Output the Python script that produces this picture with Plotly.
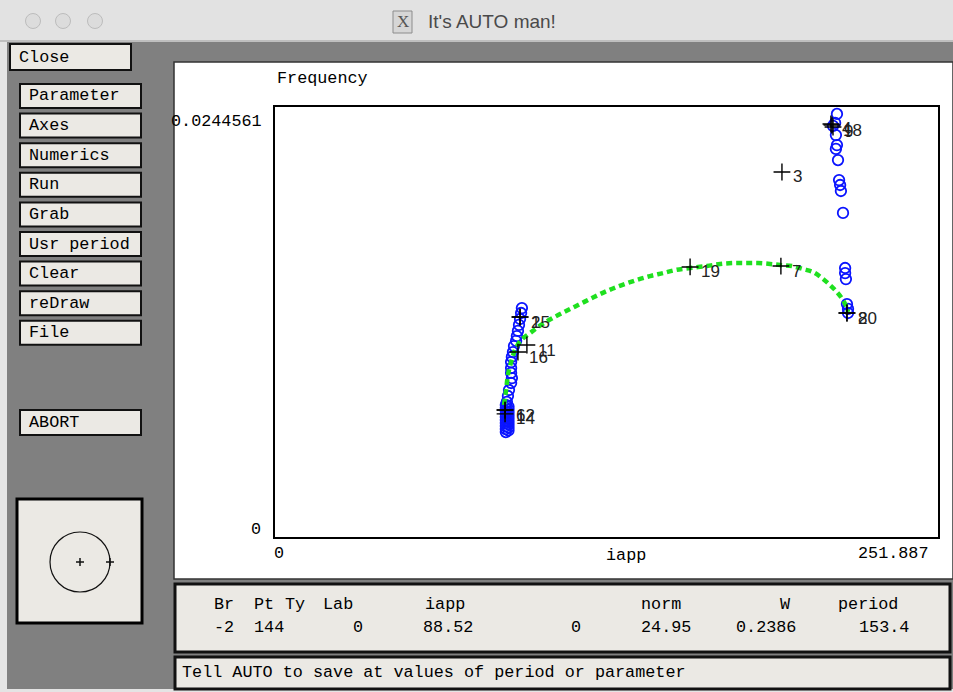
import plotly.graph_objects as go

W, H = 953, 692

# ---------------- data ----------------
iapp_range = [0, 251.887]
freq_range = [0, 0.0244561]

# stable/unstable branch (green dotted curve)
curve_iapp = [87.0, 87.8, 88.5, 89.7, 91.2, 93.5, 96.9, 101.1, 105.6, 110.6,
              115.9, 121.2, 126.1, 131.8, 137.5, 142.5, 147.4, 152.3, 157.7, 164.1,
              169.1, 174.0, 178.9, 183.5, 188.1, 191.9, 196.4, 200.6, 204.4, 207.8,
              210.9, 213.5, 215.8, 217.3, 217.7]
curve_freq = [0.00751, 0.00836, 0.00921, 0.00995, 0.01064, 0.01120, 0.01160, 0.01206, 0.01246, 0.01285,
              0.01325, 0.01365, 0.01399, 0.01433, 0.01462, 0.01484, 0.01501, 0.01519, 0.01530, 0.01541,
              0.01553, 0.01558, 0.01558, 0.01558, 0.01553, 0.01547, 0.01541, 0.01524, 0.01507, 0.01473,
              0.01433, 0.01393, 0.01348, 0.01302, 0.01280]

# blue open circles (periodic orbits)
orbit_iapp = [213.5, 212.8, 212.0, 213.1, 213.5, 213.1, 213.9, 214.3, 214.7, 215.0, 215.8,
              216.6, 216.6, 216.9, 217.3, 217.7, 217.7,
              93.8, 93.5, 93.1, 92.7, 92.3, 91.9, 91.6, 90.8, 90.4, 90.0, 89.7, 89.7, 89.7,
              90.0, 89.7, 88.9, 88.5, 88.1,
              87.7, 88.7, 87.7, 88.7, 87.7, 88.7, 87.7, 88.7, 87.7, 88.7, 87.7, 88.7, 87.7,
              88.7, 87.7, 88.7, 87.7, 88.7, 87.7]
orbit_freq = [0.02406, 0.02355, 0.02338, 0.02286, 0.02229, 0.02207, 0.02144, 0.02030, 0.02002, 0.01968, 0.01843,
              0.01530, 0.01501, 0.01467, 0.01325, 0.01297, 0.01274,
              0.01302, 0.01274, 0.01240, 0.01206, 0.01172, 0.01143, 0.01115, 0.01086, 0.01052, 0.01024, 0.00995, 0.00961, 0.00933,
              0.00904, 0.00876, 0.00836, 0.00802, 0.00768,
              0.00751, 0.00742, 0.00734, 0.00725, 0.00717, 0.00708, 0.00700, 0.00691, 0.00683, 0.00674, 0.00665, 0.00657, 0.00648,
              0.00640, 0.00631, 0.00623, 0.00614, 0.00606, 0.00597]

# labelled points (crosses)
lab_iapp = [211.2, 212.0, 211.6, 192.6, 157.7, 192.2, 217.3, 217.3, 93.1, 93.1, 95.7, 92.3, 87.4, 87.4, 87.4]
lab_freq = [0.02349, 0.02332, 0.02343, 0.02076, 0.01536, 0.01541, 0.01274, 0.01274, 0.01251, 0.01251,
            0.01092, 0.01052, 0.00722, 0.00722, 0.00700]
lab_text = ["4", "9", "18", "3", "19", "7", "8", "20", "2", "15", "11", "16", "6", "12", "14"]

buttons = ["Parameter", "Axes", "Numerics", "Run", "Grab", "Usr period", "Clear", "reDraw", "File"]

info_header = ["Br", "Pt", "Ty", "Lab", "iapp", "norm", "W", "period"]
info_values = ["-2", "144", "0", "88.52", "0", "24.95", "0.2386", "153.4"]

# ---------------- layout helpers ----------------
MONO = "Liberation Mono"
FS = 16.8
shapes = []
annots = []


def rect(x0, y0, x1, y1, fill, line=None, lw=0):
    shapes.append(dict(type="rect", xref="paper", yref="paper", layer="below",
                       x0=x0 / W, x1=x1 / W, y0=1 - y1 / H, y1=1 - y0 / H,
                       fillcolor=fill, line=dict(color=line if line else fill, width=lw)))


def circ(cx, cy, r, fill, line, lw):
    shapes.append(dict(type="circle", xref="paper", yref="paper", layer="below",
                       x0=(cx - r) / W, x1=(cx + r) / W, y0=1 - (cy + r) / H, y1=1 - (cy - r) / H,
                       fillcolor=fill, line=dict(color=line, width=lw)))


def seg(x0, y0, x1, y1, color, lw):
    shapes.append(dict(type="line", xref="paper", yref="paper", layer="below",
                       x0=x0 / W, x1=x1 / W, y0=1 - y0 / H, y1=1 - y1 / H,
                       line=dict(color=color, width=lw)))


def text(x, y, s, size=FS, anchor="left", color="black", family=MONO):
    annots.append(dict(xref="paper", yref="paper", x=x / W, y=1 - y / H, text=s,
                       showarrow=False, xanchor=anchor, yanchor="middle",
                       font=dict(family=family, size=size, color=color)))


# window chrome
rect(0, 0, W, 41, "#e2e2e2")
seg(0, 41, W, 41, "#9a9a9a", 1)
for cx in (33, 63, 95):
    circ(cx, 21, 7.5, "#dcdcdc", "#bcbcbc", 1)
rect(393, 11, 412, 33, "#d6d6d6", "#8c8c8c", 1)
text(402.5, 22, "X", size=17, anchor="center", color="#555555", family="Liberation Serif")
text(426, 22, "It's AUTO man!", size=19, color="#4a4a4a", family="Liberation Sans")

rect(7, 42, W, 689, "#808080")

# buttons
rect(10, 44, 131, 70, "#ebe9e4", "#111111", 2)
text(17, 57, "Close")
for i, b in enumerate(buttons):
    cy = 96 + i * 29.6
    rect(20, cy - 12, 141, cy + 12, "#ebe9e4", "#111111", 2)
    text(27, cy, b)
rect(20, 410, 141, 435, "#ebe9e4", "#111111", 2)
text(27, 422, "ABORT")

# circle widget
rect(17, 499, 142, 623, "#ebe9e4", "#000000", 3)
circ(80, 562, 30, "rgba(0,0,0,0)", "#111111", 1.2)
for cx in (80, 110):
    seg(cx - 4, 562, cx + 4, 562, "#111111", 1.5)
    seg(cx, 558, cx, 566, "#111111", 1.5)

# graph window
rect(174, 62, 953, 579, "#ffffff", "#333333", 1.5)

# info panels
rect(175, 584, 950, 652, "#ebe9e4", "#111111", 3)
rect(175, 657, 950, 689, "#ebe9e4", "#111111", 3)

hx = [212, 252, 283, 321, 423, 639, 778, 836]
vx = [212, 252, 351, 421, 569, 639, 734, 857]
for s, x in zip(info_header, hx):
    text(x, 604, s)
for s, x in zip(info_values, vx):
    text(x, 627, s)
text(180, 672, "Tell AUTO to save at values of period or parameter")

# axis texts
text(275, 79, "Frequency")
text(264, 122, f"{freq_range[1]:g}", anchor="right")
text(263, 529, f"{freq_range[0]:g}", anchor="right")
text(279, 553, f"{iapp_range[0]:g}", anchor="center")
text(626, 555, "iapp", anchor="center")
text(931, 553, f"{iapp_range[1]:g}", anchor="right")

# ---------------- traces ----------------
fig = go.Figure()
fig.add_trace(go.Scatter(x=orbit_iapp, y=orbit_freq, mode="markers",
                         marker=dict(symbol="circle-open", size=10.5, color="#0a14ff",
                                     line=dict(width=1.8, color="#0a14ff")),
                         hoverinfo="skip"))
fig.add_trace(go.Scatter(x=curve_iapp, y=curve_freq, mode="lines",
                         line=dict(color="#1fe01f", width=4.5, dash="6px,4px", shape="spline"),
                         hoverinfo="skip"))
fig.add_trace(go.Scatter(x=lab_iapp, y=lab_freq, mode="markers",
                         marker=dict(symbol="cross-thin-open", size=12, color="black",
                                     line=dict(width=1.4, color="black")),
                         hoverinfo="skip"))
for xv, yv, t in zip(lab_iapp, lab_freq, lab_text):
    annots.append(dict(x=xv, y=yv, xref="x", yref="y", text=t, showarrow=False,
                       xanchor="left", yanchor="middle", xshift=9, yshift=-5,
                       font=dict(family="Liberation Sans", size=17, color="#222222")))

fig.update_layout(
    width=W, height=H, margin=dict(l=0, r=0, t=0, b=0),
    paper_bgcolor="#e4e4e4", plot_bgcolor="rgba(0,0,0,0)",
    showlegend=False, shapes=shapes, annotations=annots,
    xaxis=dict(domain=[275 / W, 938 / W], range=iapp_range, showgrid=False, zeroline=False,
               showticklabels=False, ticks="", showline=True, mirror=True,
               linecolor="black", linewidth=2),
    yaxis=dict(domain=[1 - 537 / H, 1 - 107 / H], range=freq_range, showgrid=False, zeroline=False,
               showticklabels=False, ticks="", showline=True, mirror=True,
               linecolor="black", linewidth=2),
)

fig.write_html("out.html", config={"displayModeBar": False},
               post_script="document.body.style.margin='0';document.body.style.overflow='hidden';")
